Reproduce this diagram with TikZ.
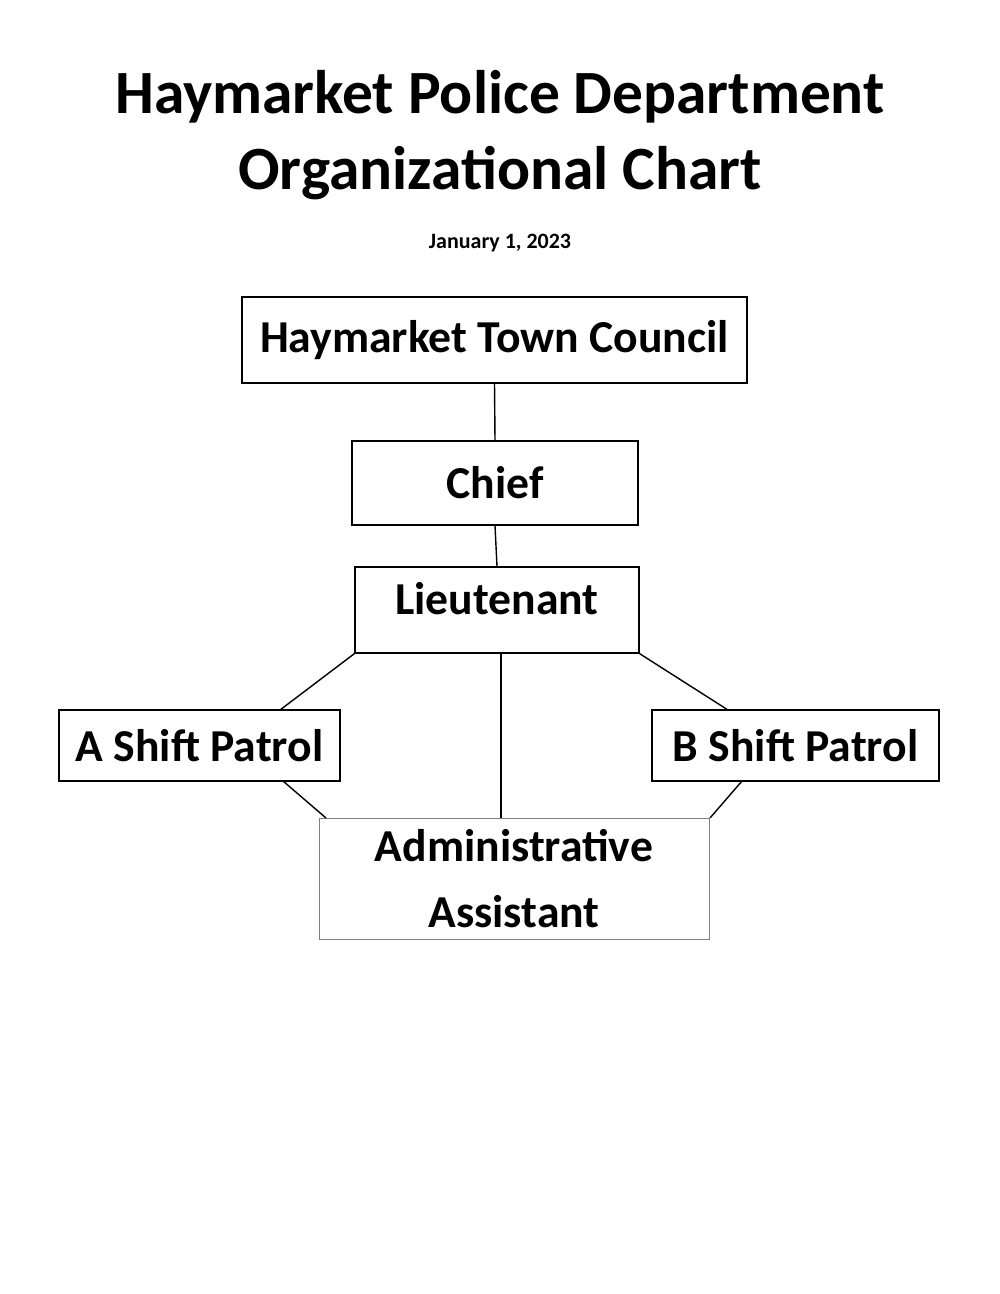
\documentclass[tikz,border=0pt]{standalone}
\usepackage{fontspec}
\setmainfont{Carlito}
\usetikzlibrary{positioning}

\begin{document}
\begin{tikzpicture}[x=0.02cm,y=-0.02cm,
  unit/.style={draw, thick, font=\bfseries\fontsize{26}{30}\selectfont, inner sep=0pt},
  link/.style={thick}]
  \useasboundingbox (0,0) rectangle (1000,1294);
  \node (title) at (500,97) {\bfseries\fontsize{35}{40}\selectfont Haymarket Police Department};
  \node (subtitle) at (500,173) {\bfseries\fontsize{35}{40}\selectfont Organizational Chart};
  \node (date) at (500,243) {\bfseries\fontsize{12.5}{15}\selectfont January 1, 2023};

  \node[unit, minimum width=505*0.02cm, minimum height=86*0.02cm] (council) at (494.5,340) {Haymarket Town Council};
  \node[unit, minimum width=286*0.02cm, minimum height=84*0.02cm] (chief) at (495,483) {Chief};
  \node[unit, minimum width=284*0.02cm, minimum height=86*0.02cm, text depth=0pt] (lt) at (497,610) {\raisebox{0.45cm}{Lieutenant}};
  \node[unit, minimum width=281*0.02cm, minimum height=71*0.02cm] (ashift) at (199.5,745.5) {A Shift Patrol};
  \node[unit, minimum width=287*0.02cm, minimum height=71*0.02cm] (bshift) at (795.5,745.5) {B Shift Patrol};
  \node[unit, draw=gray, thin, minimum width=390*0.02cm, minimum height=121*0.02cm, align=center] (admin) at (514,878.5) {Administrative\\[0.25cm]Assistant};

  % connectors
  \draw[link] (council.south) -- (chief.north);
  \draw[link] (chief.south) -- (lt.north);
  \coordinate (aTop) at (280,710);
  \coordinate (bTop) at (728,710);
  \coordinate (aBot) at (283,781);
  \coordinate (bBot) at (742,781);
  \coordinate (adminA) at (326,818);
  \coordinate (adminB) at (710,818);
  \draw[link] (lt.south west) -- (aTop);
  \draw[link] (lt.south east) -- (bTop);
  \draw[link] (lt.south -| 501,0) -- (admin.north -| 501,0);
  \draw[link] (aBot) -- (adminA);
  \draw[link] (bBot) -- (adminB);
\end{tikzpicture}
\end{document}
